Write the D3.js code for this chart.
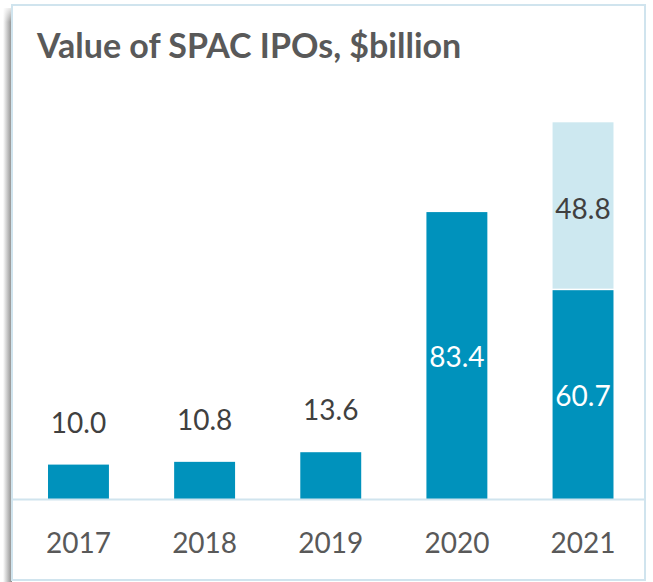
<!DOCTYPE html>
<html>
<head>
<meta charset="utf-8">
<script src="https://cdn.jsdelivr.net/npm/d3@7"></script>
<style>
  html, body { margin: 0; padding: 0; background: #ffffff; }
  svg { display: block; }
</style>
</head>
<body>
<svg id="chart" width="653" height="582"></svg>
<script>
const categories = ["2017", "2018", "2019", "2020", "2021"];
const baseValues = [10.0, 10.8, 13.6, 83.4, 60.7];
const extraValues = [0, 0, 0, 0, 48.8];
const titleText = "Value of SPAC IPOs, $billion";

const svg = d3.select("#chart");

// shadow on left side of the frame
const defs = svg.append("defs");
const g1 = defs.append("linearGradient").attr("id", "shadow").attr("x1", "0").attr("x2", "1");
g1.append("stop").attr("offset", "0").attr("stop-color", "#ffffff");
g1.append("stop").attr("offset", "1").attr("stop-color", "#8a8a8a");
const g2 = defs.append("linearGradient").attr("id", "shadowTop").attr("x1", "0").attr("x2", "0").attr("y1", "0").attr("y2", "1");
g2.append("stop").attr("offset", "0").attr("stop-color", "#ffffff").attr("stop-opacity", 1);
g2.append("stop").attr("offset", "1").attr("stop-color", "#ffffff").attr("stop-opacity", 0);

svg.append("rect").attr("x", 3).attr("y", 8).attr("width", 9).attr("height", 574).attr("fill", "url(#shadow)");
svg.append("rect").attr("x", 0).attr("y", 4).attr("width", 12).attr("height", 18).attr("fill", "url(#shadowTop)");

// frame
svg.append("rect")
  .attr("x", 12).attr("y", 5).attr("width", 633).attr("height", 575)
  .attr("fill", "#ffffff").attr("stroke", "#d0e4ee").attr("stroke-width", 2);

// title
svg.append("text")
  .attr("x", 37).attr("y", 58)
  .attr("font-family", "Lato, 'Open Sans', sans-serif")
  .attr("font-weight", "bold")
  .attr("font-size", 34)
  .attr("fill", "#595959")
  .text(titleText);

const x = d3.scaleBand().domain(categories)
  .range([15.4, 646.1]).paddingInner(0.517).paddingOuter(0.2585);
const y = d3.scaleLinear().domain([0, 109.5]).range([499, 122.3]);

const data = categories.map((c, i) => ({ c, base: baseValues[i], extra: extraValues[i] }));

// base bars
svg.selectAll("rect.base").data(data).enter().append("rect")
  .attr("class", "base")
  .attr("x", d => x(d.c)).attr("width", x.bandwidth())
  .attr("y", d => y(d.base)).attr("height", d => y(0) - y(d.base))
  .attr("fill", "#0092bc");

// stacked extra bars
svg.selectAll("rect.extra").data(data.filter(d => d.extra > 0)).enter().append("rect")
  .attr("class", "extra")
  .attr("x", d => x(d.c)).attr("width", x.bandwidth())
  .attr("y", d => y(d.base + d.extra)).attr("height", d => y(d.base) - y(d.base + d.extra) - 1.5)
  .attr("fill", "#cde8f0");

// baseline
svg.append("line")
  .attr("x1", 12).attr("x2", 645).attr("y1", y(0) + 0.5).attr("y2", y(0) + 0.5)
  .attr("stroke", "#d0e4ee").attr("stroke-width", 2);

const font = "Lato, 'Open Sans', sans-serif";
const fs = 28;

// value labels
data.forEach(d => {
  const cx = x(d.c) + x.bandwidth() / 2;
  if (d.base > 40) {
    svg.append("text").attr("x", cx).attr("y", (y(d.base) + y(0)) / 2 + 11)
      .attr("text-anchor", "middle").attr("font-family", font).attr("font-size", fs)
      .attr("fill", "#ffffff").text(d3.format(".1f")(d.base));
  } else {
    svg.append("text").attr("x", cx).attr("y", y(d.base) - 32)
      .attr("text-anchor", "middle").attr("font-family", font).attr("font-size", fs)
      .attr("fill", "#404040").text(d3.format(".1f")(d.base));
  }
  if (d.extra > 0) {
    svg.append("text").attr("x", cx).attr("y", (y(d.base) + y(d.base + d.extra)) / 2 + 13)
      .attr("text-anchor", "middle").attr("font-family", font).attr("font-size", fs)
      .attr("fill", "#404040").text(d3.format(".1f")(d.extra));
  }
});

// x axis labels
const xAxis = d3.axisBottom(x).tickSize(0).tickPadding(0);
const ax = svg.append("g").attr("transform", `translate(0, ${y(0)})`).call(xAxis);
ax.select(".domain").remove();
ax.selectAll("text")
  .attr("y", 54).attr("dy", null)
  .attr("font-family", font).attr("font-size", fs)
  .attr("fill", "#595959");
</script>
</body>
</html>
